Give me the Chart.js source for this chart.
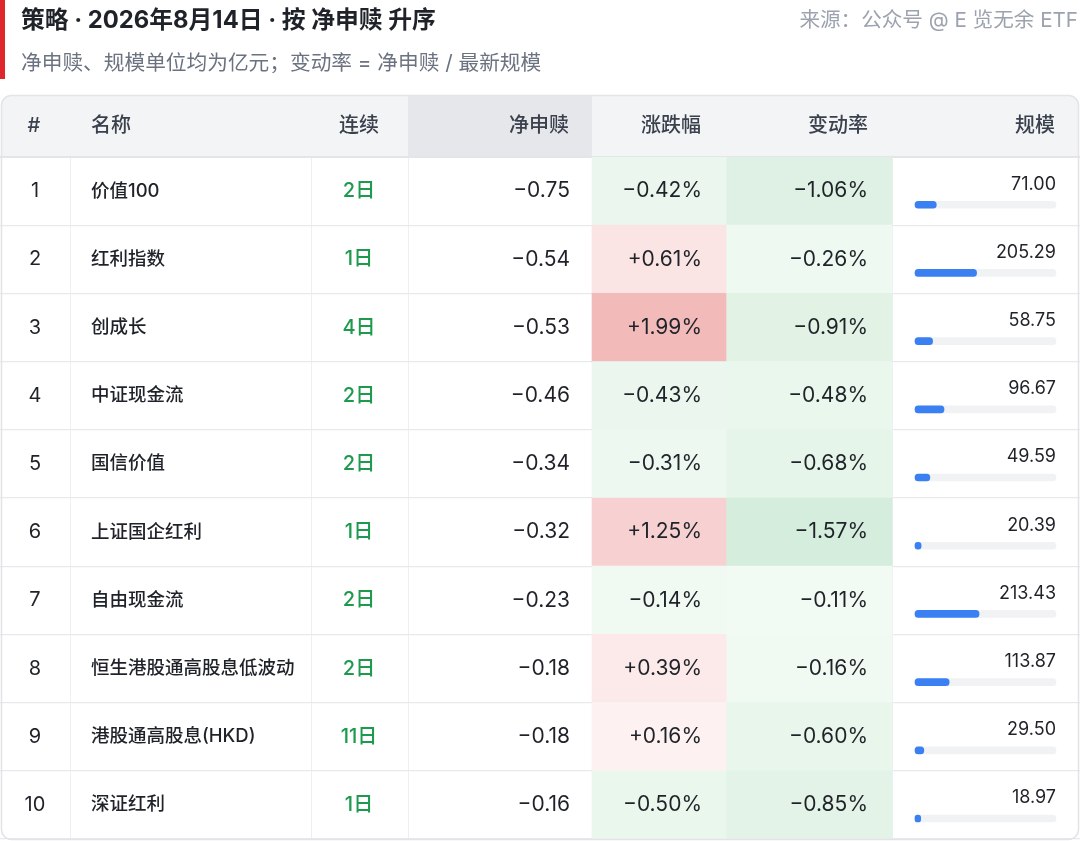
<!DOCTYPE html>
<html>
<head>
<meta charset="utf-8">
<script src="https://cdn.jsdelivr.net/npm/chart.js@4.4.1/dist/chart.umd.min.js"></script>
<style>
  html, body { margin:0; padding:0; background:#fff; width:1080px; height:841px; overflow:hidden;
    font-family: Inter, "Noto Sans CJK SC", sans-serif; }
  #wrap { position:absolute; left:0; top:0; width:1080px; height:841px; }
  .accent { position:absolute; left:0; top:0; width:5px; height:79px; background:#e0262d; }
  .title { position:absolute; left:21px; top:4px; font-size:23.8px; font-weight:700; color:#1f2329; line-height:32px; white-space:nowrap; }
  .subtitle { position:absolute; left:21px; top:49px; font-size:20.7px; color:#6b7280; line-height:28px; white-space:nowrap; }
  .source { position:absolute; right:2px; top:6px; font-size:20.6px; color:#9ca3af; line-height:28px; white-space:nowrap; }
</style>
</head>
<body>
<div id="wrap"><canvas id="c"></canvas></div>
<div class="accent"></div>
<div class="title">策略 · 2026年8月14日 · 按 净申赎 升序</div>
<div class="subtitle">净申赎、规模单位均为亿元；变动率 = 净申赎 / 最新规模</div>
<div class="source">来源：公众号 @ E 览无余 ETF</div>
<script>
// ---- data ----
const HEADERS = ['#', '名称', '连续', '净申赎', '涨跌幅', '变动率', '规模'];
const RANKS = ['1', '2', '3', '4', '5', '6', '7', '8', '9', '10'];
const NAMES = ['价值100', '红利指数', '创成长', '中证现金流', '国信价值', '上证国企红利', '自由现金流', '恒生港股通高股息低波动', '港股通高股息(HKD)', '深证红利'];
const STREAK_DAYS = [2, 1, 4, 2, 2, 1, 2, 2, 11, 1];
const NET_FLOW = [-0.75, -0.54, -0.53, -0.46, -0.34, -0.32, -0.23, -0.18, -0.18, -0.16];
const PRICE_CHANGE = [-0.42, 0.61, 1.99, -0.43, -0.31, 1.25, -0.14, 0.39, 0.16, -0.50];
const FLOW_RATE = [-1.06, -0.26, -0.91, -0.48, -0.68, -1.57, -0.11, -0.16, -0.60, -0.85];
const AUM = [71.00, 205.29, 58.75, 96.67, 49.59, 20.39, 213.43, 113.87, 29.50, 18.97];

// ---- layout / style ----
const LAYOUT_W = 1080;
const COL_EDGES = [0, 70, 312, 408, 592, 726, 892, 1080];
const TRACK = [915, 1056];
const AUM_MAX = 470;
const HEAT_MAX = 2;
const HEADER_H = 62;
const ROW_TEXT_Y = 0.5, AUM_TEXT_Y = 0.4, AUM_BAR_Y = 0.70;
const FONT_STACK = 'Inter, "Noto Sans CJK SC", sans-serif';
const TEXT = '#1f2329', HEAD_TEXT = '#3a414d', GREEN_TEXT = '#1e9a4e';

function heatColor(v) {
  const t = Math.min(1, Math.abs(v) / HEAT_MAX);
  const base = v >= 0 ? [254, 246, 246] : [243, 251, 245];
  const full = v >= 0 ? [243, 186, 186] : [205, 233, 213];
  const c = base.map((b, k) => Math.round(b + (full[k] - b) * t));
  return 'rgb(' + c.join(',') + ')';
}
const fmtSigned = (v, suffix) => (v < 0 ? '\u2212' : '+') + Math.abs(v).toFixed(2) + suffix;
const fmtNeg = v => (v < 0 ? '\u2212' : '') + Math.abs(v).toFixed(2);

const rowIdx = RANKS.map((_, i) => i);

const tablePlugin = {
  id: 'tableText',
  beforeDraw(chart) {
    const { ctx, chartArea } = chart;
    const x = chart.scales.x;
    const top = chartArea.top - HEADER_H;
    ctx.save();
    ctx.fillStyle = '#ffffff';
    ctx.fillRect(0, 0, chart.width, chart.height);
    // header background with rounded top corners
    const l = x.getPixelForValue(0) + 1, r = x.getPixelForValue(LAYOUT_W) - 1;
    ctx.beginPath();
    ctx.roundRect(l, top, r - l, HEADER_H, [10, 10, 0, 0]);
    ctx.fillStyle = '#f3f4f6';
    ctx.fill();
    ctx.fillStyle = '#e6e7eb';
    ctx.fillRect(x.getPixelForValue(COL_EDGES[3]), top + 1, x.getPixelForValue(COL_EDGES[4]) - x.getPixelForValue(COL_EDGES[3]), HEADER_H - 1);
    ctx.restore();
  },
  afterDraw(chart) {
    const { ctx, chartArea } = chart;
    const x = chart.scales.x, y = chart.scales.y;
    const headY = chartArea.top - HEADER_H / 2;
    const draw = (s, px, py, font, color, align) => {
      ctx.font = font; ctx.fillStyle = color; ctx.textAlign = align; ctx.textBaseline = 'middle';
      ctx.fillText(s, px, py);
    };
    ctx.save();
    const headAnchors = [[34, 'center'], [91, 'left'], [359, 'center'], [569, 'right'], [701, 'right'], [868, 'right'], [1055, 'right']];
    HEADERS.forEach((h, k) => draw(h, x.getPixelForValue(headAnchors[k][0]), headY, '500 20px ' + FONT_STACK, HEAD_TEXT, headAnchors[k][1]));
    rowIdx.forEach(i => {
      const cy = y.getPixelForValue(i + ROW_TEXT_Y);
      draw(RANKS[i], x.getPixelForValue(35), cy, '400 20px ' + FONT_STACK, TEXT, 'center');
      draw(NAMES[i], x.getPixelForValue(91), cy, '500 18.5px ' + FONT_STACK, TEXT, 'left');
      draw(STREAK_DAYS[i] + '日', x.getPixelForValue(359), cy, '500 20px ' + FONT_STACK, GREEN_TEXT, 'center');
      draw(fmtNeg(NET_FLOW[i]), x.getPixelForValue(570), cy, '400 21px ' + FONT_STACK, TEXT, 'right');
      draw(fmtSigned(PRICE_CHANGE[i], '%'), x.getPixelForValue(702), cy, '400 21px ' + FONT_STACK, TEXT, 'right');
      draw(fmtSigned(FLOW_RATE[i], '%'), x.getPixelForValue(868), cy, '400 21px ' + FONT_STACK, TEXT, 'right');
      draw(AUM[i].toFixed(2), x.getPixelForValue(1056), y.getPixelForValue(i + AUM_TEXT_Y), '400 18px ' + FONT_STACK, TEXT, 'right');
    });
    // outer rounded border
    const l = x.getPixelForValue(0) + 1.5, r = x.getPixelForValue(LAYOUT_W) - 1.5;
    const t = chartArea.top - HEADER_H + 0.5, b = chartArea.bottom + 0.5;
    ctx.beginPath();
    ctx.roundRect(l, t, r - l, b - t, 10);
    ctx.strokeStyle = '#e2e4e8';
    ctx.lineWidth = 1.5;
    ctx.stroke();
    ctx.restore();
  }
};

const trackRange = TRACK[1] - TRACK[0];
const barCommon = { grouped: false, borderWidth: 0 };

new Chart(document.getElementById('c'), {
  type: 'bar',
  data: {
    datasets: [
      Object.assign({ label: '规模', xAxisID: 'x2', yAxisID: 'y2',
        data: AUM.map((v, i) => ({ x: [0, v], y: i + AUM_BAR_Y })),
        backgroundColor: '#3b80f2', barThickness: 7, borderRadius: 4, borderSkipped: false }, barCommon),
      Object.assign({ label: 'track', xAxisID: 'x2', yAxisID: 'y2',
        data: rowIdx.map(i => ({ x: [0, AUM_MAX], y: i + AUM_BAR_Y })),
        backgroundColor: '#f1f2f4', barThickness: 7, borderRadius: 4, borderSkipped: false }, barCommon),
      Object.assign({ label: '涨跌幅', xAxisID: 'x', yAxisID: 'y',
        data: rowIdx.map(i => ({ x: [COL_EDGES[4], COL_EDGES[5]], y: i + 0.5 })),
        backgroundColor: PRICE_CHANGE.map(heatColor), barPercentage: 1, categoryPercentage: 1 }, barCommon),
      Object.assign({ label: '变动率', xAxisID: 'x', yAxisID: 'y',
        data: rowIdx.map(i => ({ x: [COL_EDGES[5], COL_EDGES[6]], y: i + 0.5 })),
        backgroundColor: FLOW_RATE.map(heatColor), barPercentage: 1, categoryPercentage: 1 }, barCommon)
    ]
  },
  options: {
    indexAxis: 'y',
    responsive: true,
    maintainAspectRatio: false,
    animation: false,
    devicePixelRatio: 1,
    layout: { padding: { top: 157, bottom: 2, left: 0, right: 0 } },
    plugins: { legend: { display: false }, tooltip: { enabled: false }, title: { display: false } },
    scales: {
      x: {
        type: 'linear', min: 0, max: LAYOUT_W, z: 1,
        afterBuildTicks: s => { s.ticks = COL_EDGES.slice(1, -1).map(v => ({ value: v })); },
        ticks: { display: false },
        grid: { drawTicks: false, color: '#eeeff1', lineWidth: 1 },
        border: { display: false }
      },
      x2: {
        type: 'linear', display: false,
        min: -TRACK[0] * AUM_MAX / trackRange,
        max: (LAYOUT_W - TRACK[0]) * AUM_MAX / trackRange
      },
      y: {
        type: 'linear', reverse: true, min: 0, max: RANKS.length, offset: false, z: 1,
        afterBuildTicks: s => { s.ticks = RANKS.map((_, i) => ({ value: i })).concat([{ value: RANKS.length }]); },
        ticks: { display: false },
        grid: { offset: false, drawTicks: false,
          color: c => c.index === 0 ? '#e3e5e9' : '#e8e9ec',
          lineWidth: c => c.index === 0 ? 2 : 1.2 },
        border: { display: false }
      },
      y2: {
        type: 'linear', reverse: true, min: 0, max: RANKS.length, offset: false, display: false,
        grid: { offset: false }
      }
    }
  },
  plugins: [tablePlugin]
});
</script>
</body>
</html>
